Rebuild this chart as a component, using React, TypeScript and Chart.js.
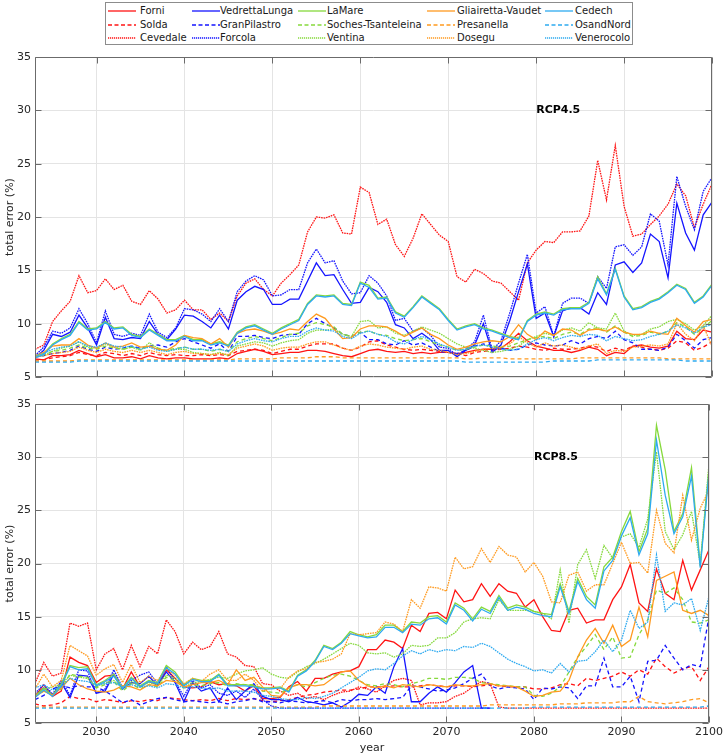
import { useEffect, useRef } from "react";
import { Chart, registerables } from "chart.js";

Chart.register(...registerables);

// ---------------- data ----------------
const years = [
  2023, 2024, 2025, 2026, 2027, 2028, 2029,
  2030, 2031, 2032, 2033, 2034, 2035, 2036, 2037, 2038, 2039,
  2040, 2041, 2042, 2043, 2044, 2045, 2046, 2047, 2048, 2049,
  2050, 2051, 2052, 2053, 2054, 2055, 2056, 2057, 2058, 2059,
  2060, 2061, 2062, 2063, 2064, 2065, 2066, 2067, 2068, 2069,
  2070, 2071, 2072, 2073, 2074, 2075, 2076, 2077, 2078, 2079,
  2080, 2081, 2082, 2083, 2084, 2085, 2086, 2087, 2088, 2089,
  2090, 2091, 2092, 2093, 2094, 2095, 2096, 2097, 2098, 2099,
  2100,
];
const xTickValues = [2030, 2040, 2050, 2060, 2070, 2080, 2090, 2100];
const yTickValues = [5, 10, 15, 20, 25, 30, 35];

const glacierNames = [
  "Forni", "Solda", "Cevedale",
  "VedrettaLunga", "GranPilastro", "Forcola",
  "LaMare", "Soches-Tsanteleina", "Ventina",
  "Gliairetta-Vaudet", "Presanella", "Dosegu",
  "Cedech", "OsandNord", "Venerocolo",
];

// ---- RCP4.5 ----
const forni45 = [
  6.7, 6.6, 7.0, 7.0, 7.1, 7.5, 7.2,
  6.9, 7.1, 6.8, 6.8, 6.9, 6.7, 7.0, 6.8, 6.7, 6.8,
  6.8, 6.7, 6.7, 6.7, 6.8, 6.7, 7.2, 7.4, 7.6, 7.4,
  7.1, 7.2, 7.3, 7.3, 7.5, 7.5, 7.4, 7.2, 7.0, 6.9,
  7.2, 7.5, 7.6, 7.4, 7.3, 7.4, 7.2, 7.3, 7.2, 7.3,
  7.3, 7.2, 7.3, 7.5, 7.6, 7.6, 7.7, 8.3, 9.1, 8.4,
  7.9, 7.7, 7.5, 7.5, 7.3, 7.5, 7.8, 7.6, 7.0, 7.3,
  7.2, 7.9, 8.0, 7.8, 7.7, 7.9, 9.3, 8.6, 8.5, 9.4,
  9.2,
];
const solda45 = [
  6.6, 6.6, 6.8, 6.9, 7.0, 7.3, 7.1,
  7.0, 7.3, 7.2, 7.0, 7.2, 7.0, 7.3, 7.1, 7.0, 7.1,
  7.0, 7.0, 7.1, 7.0, 7.1, 7.0, 7.4, 7.5, 7.6, 7.5,
  7.2, 7.4, 7.6, 7.6, 7.9, 8.1, 8.1, 8.1, 7.7, 7.5,
  7.8, 8.3, 8.4, 8.0, 7.8, 7.6, 7.5, 7.6, 7.5, 7.4,
  7.3, 7.2, 7.0, 7.3, 7.4, 7.5, 7.6, 7.7, 7.9, 7.8,
  7.6, 7.5, 7.7, 7.6, 7.6, 7.7, 7.9, 7.8, 7.4, 7.7,
  7.5, 7.9, 7.8, 7.6, 7.5, 7.7, 8.4, 8.2, 7.5, 7.8,
  8.3,
];
const cevedale45 = [
  7.6, 8.0, 10.2, 11.2, 12.1, 14.5, 12.9,
  13.1, 14.2, 13.2, 13.6, 12.1, 11.8, 13.1, 12.3, 11.0, 11.3,
  12.2, 11.3, 11.3, 10.4, 11.0, 10.2, 12.6, 13.8, 14.2, 13.2,
  12.6, 13.8, 14.6, 15.5, 18.6, 20.0, 19.9, 20.2, 18.5, 18.4,
  22.8, 22.3, 19.3, 19.8, 17.4, 16.3, 18.0, 20.3, 19.3, 18.3,
  17.7, 14.4, 13.9, 15.1, 14.7, 14.0, 13.8, 13.0, 12.2, 15.7,
  16.9, 17.7, 17.6, 18.6, 18.6, 18.7, 20.1, 25.3, 21.6, 26.7,
  21.0, 18.2, 18.4, 19.3, 20.1, 21.2, 23.1, 22.0, 19.0, 21.2,
  23.1,
];
const vedrettaLunga45 = [
  6.8, 7.5, 9.0, 8.8, 9.2, 10.8, 9.6,
  8.0, 10.6, 8.6, 8.5, 8.7, 8.6, 10.2, 9.0, 8.5, 9.5,
  10.8, 10.7, 10.2, 9.6, 10.8, 9.5, 12.2, 13.0, 13.5, 13.2,
  11.8, 11.8, 12.3, 12.3, 14.0, 15.7, 14.5, 14.6, 13.2, 11.9,
  12.0, 13.4, 13.0, 12.0, 9.9, 9.6, 8.6, 9.1, 8.5, 7.5,
  7.5, 6.9, 7.5, 8.0, 10.0, 7.3, 8.0, 10.3, 13.0, 15.6,
  10.5, 11.0, 8.8, 11.2, 11.5, 11.5, 10.9, 12.9, 11.8, 15.5,
  15.8, 14.8, 15.7, 18.4, 17.7, 14.3, 21.3, 18.5, 16.9, 20.2,
  21.4,
];
const granPilastro45 = [
  6.9, 7.0, 7.2, 7.3, 7.5, 7.9, 7.6,
  7.4, 7.8, 7.6, 7.7, 7.9, 7.7, 7.9, 8.0, 7.8, 8.3,
  8.6, 8.3, 8.0, 7.7, 8.1, 7.4, 8.8, 8.8, 8.9, 8.7,
  8.6, 8.9, 9.0, 9.0, 10.0, 10.5, 10.0, 9.6, 9.0, 8.8,
  9.2, 8.5, 8.5, 8.1, 8.0, 8.4, 8.0, 8.2, 7.8, 7.4,
  7.3, 7.2, 7.5, 7.9, 8.1, 7.9, 7.7, 7.5, 7.6, 8.0,
  8.2, 8.0, 7.9, 8.0, 8.4, 8.1, 8.6, 8.8, 8.6, 9.3,
  8.5, 8.2, 7.6, 7.6, 7.5, 7.8, 9.0, 8.4, 7.7, 8.5,
  8.7,
];
const forcola45 = [
  7.0, 7.8, 9.3, 9.1, 9.6, 11.4, 10.0,
  8.2, 11.2, 9.0, 8.8, 9.1, 8.9, 10.9, 9.2, 8.7, 9.6,
  11.4, 11.3, 10.9, 10.2, 11.4, 10.2, 13.0, 14.0, 14.5, 14.1,
  12.6, 12.7, 13.2, 13.2, 15.7, 17.0, 15.7, 15.9, 14.0, 12.8,
  12.9, 14.5, 13.8, 12.6, 10.3, 10.5, 9.3, 9.6, 8.9, 7.8,
  7.7, 7.0, 7.6, 8.3, 10.8, 7.5, 8.4, 11.0, 13.8, 16.5,
  11.0, 11.6, 8.8, 11.9, 12.4, 12.4, 11.9, 14.4, 13.3, 17.2,
  17.4, 16.4, 17.2, 20.3, 19.6, 15.5, 23.8, 21.0, 18.8, 22.4,
  23.7,
];
const laMare45 = [
  6.9, 7.2, 8.1, 8.6, 9.0, 10.2, 9.5,
  9.6, 10.2, 9.6, 9.7, 9.0, 8.8, 9.5, 9.0, 8.5, 8.5,
  8.9, 8.5, 8.5, 8.1, 8.3, 8.0, 9.2, 9.7, 9.9, 9.5,
  9.1, 9.6, 10.0, 10.4, 11.9, 12.7, 12.6, 12.7, 11.9, 11.8,
  13.9, 13.6, 12.4, 12.5, 11.1, 10.7, 11.6, 12.6, 12.0, 11.4,
  10.4, 9.5, 9.8, 10.0, 9.6, 9.4, 9.1, 8.8, 8.6, 10.3,
  10.9, 11.1, 10.9, 11.4, 11.5, 11.5, 12.0, 14.4, 12.8, 15.2,
  12.6, 11.4, 11.6, 12.1, 12.4, 13.0, 13.7, 13.3, 12.0, 12.6,
  13.7,
];
const soches45 = [
  7.0, 7.1, 7.4, 7.5, 7.7, 8.0, 7.7,
  7.6, 7.9, 7.7, 7.6, 7.8, 7.6, 7.9, 7.7, 7.5, 7.7,
  7.8, 7.6, 7.6, 7.4, 7.6, 7.4, 8.3, 8.6, 8.8, 8.6,
  8.4, 8.7, 9.0, 9.1, 9.8, 10.1, 9.9, 9.7, 9.0, 8.8,
  9.2, 9.3, 9.0, 8.9, 8.6, 8.4, 8.5, 8.6, 8.3, 8.0,
  7.8, 7.5, 7.6, 7.8, 8.0, 7.9, 7.8, 7.9, 8.2, 8.5,
  8.7, 8.8, 8.6, 9.0, 9.2, 9.0, 9.5, 9.6, 9.2, 9.8,
  9.2, 8.8, 8.9, 9.2, 9.0, 9.3, 10.1, 9.7, 9.0, 9.6,
  10.3,
];
const ventina45 = [
  6.9, 7.0, 7.4, 7.7, 7.9, 8.3, 7.8,
  7.7, 8.1, 7.8, 7.6, 7.8, 7.5, 8.2, 7.7, 7.4, 7.6,
  7.6, 7.3, 7.2, 7.1, 7.3, 7.0, 7.9, 8.1, 8.3, 8.2,
  7.9, 8.2, 8.4, 8.5, 9.1, 9.4, 9.4, 9.5, 9.0, 8.8,
  10.2, 10.3, 9.6, 9.7, 9.1, 8.9, 9.3, 9.7, 9.4, 9.1,
  8.6, 8.1, 7.8, 7.7, 7.5, 7.3, 7.4, 7.6, 7.9, 8.5,
  8.8, 9.1, 8.9, 9.4, 9.6, 9.3, 10.1, 9.6, 9.5, 11.0,
  9.3, 8.9, 9.0, 9.5, 9.7, 10.2, 10.4, 10.0, 9.4, 9.8,
  10.8,
];
const gliairetta45 = [
  7.0, 7.3, 7.9, 8.0, 8.0, 8.6, 8.0,
  7.7, 8.2, 7.8, 7.9, 8.2, 7.8, 7.9, 7.6, 7.5, 8.0,
  8.9, 8.7, 8.6, 8.1, 8.6, 7.8, 9.1, 9.4, 9.5, 9.3,
  9.0, 9.2, 9.5, 9.4, 10.2, 10.9, 10.5, 9.5, 8.6, 8.7,
  9.5, 9.8, 9.8, 9.7, 9.3, 8.8, 9.2, 9.6, 9.0, 8.6,
  8.0, 7.6, 7.8, 8.1, 8.3, 8.4, 8.3, 8.8, 9.9, 9.0,
  8.5, 9.3, 8.9, 9.5, 9.4, 8.9, 9.4, 9.5, 9.3, 9.7,
  9.2, 9.0, 9.0, 9.3, 9.1, 9.0, 10.5, 9.8, 9.2, 10.2,
  10.4,
];
const presanella45 = [
  6.5, 6.5, 6.5, 6.5, 6.5, 6.6, 6.6,
  6.6, 6.6, 6.6, 6.6, 6.6, 6.6, 6.6, 6.6, 6.6, 6.6,
  6.6, 6.6, 6.6, 6.6, 6.6, 6.6, 6.7, 6.7, 6.7, 6.7,
  6.7, 6.8, 6.8, 6.8, 6.8, 6.9, 6.9, 6.9, 6.8, 6.8,
  6.8, 6.8, 6.8, 6.8, 6.8, 6.8, 6.8, 6.8, 6.8, 6.8,
  6.8, 6.8, 6.7, 6.7, 6.8, 6.8, 6.8, 6.7, 6.7, 6.7,
  6.7, 6.7, 6.7, 6.7, 6.7, 6.8, 6.8, 6.8, 6.8, 6.8,
  6.8, 6.8, 6.8, 6.8, 6.8, 6.7, 6.7, 6.7, 6.7, 6.7,
  6.7,
];
const dosegu45 = [
  6.9, 7.0, 7.2, 7.3, 7.4, 7.8, 7.5,
  7.3, 7.6, 7.4, 7.3, 7.5, 7.3, 7.5, 7.3, 7.1, 7.3,
  7.4, 7.2, 7.2, 7.1, 7.2, 7.1, 7.7, 7.9, 8.1, 7.9,
  7.5, 7.7, 7.8, 7.8, 8.1, 8.3, 8.3, 8.0, 7.7, 7.5,
  7.9, 8.1, 8.0, 7.8, 7.7, 7.6, 7.8, 7.9, 7.6, 7.5,
  7.3, 7.1, 7.2, 7.4, 7.6, 7.7, 7.8, 8.1, 8.8, 8.2,
  7.8, 8.2, 7.9, 8.0, 7.8, 7.6, 7.9, 8.1, 7.2, 7.5,
  7.4, 7.8, 7.9, 8.0, 7.9, 8.1, 10.0, 9.0, 8.4, 9.8,
  7.9,
];
const cedech45 = [
  6.8, 7.1, 8.0, 8.5, 8.9, 10.1, 9.4,
  9.5, 10.1, 9.5, 9.6, 8.9, 8.7, 9.4, 8.9, 8.4, 8.4,
  8.8, 8.4, 8.4, 8.0, 8.2, 7.9, 9.1, 9.6, 9.8, 9.4,
  9.0, 9.5, 9.9, 10.3, 11.8, 12.6, 12.5, 12.6, 11.8, 11.7,
  13.8, 13.4, 12.3, 12.4, 11.0, 10.6, 11.5, 12.5, 11.9, 11.3,
  10.3, 9.4, 9.7, 9.9, 9.5, 9.3, 9.0, 8.7, 8.5, 10.2,
  10.8, 11.0, 10.8, 11.3, 11.4, 11.4, 11.9, 14.2, 12.7, 15.1,
  12.5, 11.3, 11.5, 12.0, 12.3, 12.9, 13.6, 13.2, 11.9, 12.5,
  13.6,
];
const osandNord45 = [
  6.4, 6.4, 6.4, 6.4, 6.4, 6.5, 6.5,
  6.5, 6.5, 6.5, 6.5, 6.5, 6.5, 6.5, 6.5, 6.5, 6.5,
  6.5, 6.5, 6.5, 6.5, 6.5, 6.5, 6.5, 6.5, 6.5, 6.5,
  6.5, 6.5, 6.5, 6.5, 6.5, 6.5, 6.5, 6.5, 6.5, 6.5,
  6.5, 6.5, 6.5, 6.5, 6.5, 6.5, 6.5, 6.5, 6.5, 6.5,
  6.5, 6.5, 6.4, 6.4, 6.4, 6.4, 6.4, 6.4, 6.4, 6.4,
  6.4, 6.4, 6.5, 6.5, 6.5, 6.5, 6.5, 6.6, 6.6, 6.6,
  6.6, 6.6, 6.6, 6.6, 6.6, 6.6, 6.6, 6.5, 6.5, 6.5,
  6.5,
];
const venerocolo45 = [
  7.0, 7.2, 7.6, 7.8, 7.9, 8.3, 7.9,
  7.8, 8.2, 7.9, 7.8, 7.9, 7.6, 7.8, 7.5, 7.4, 7.6,
  7.8, 7.6, 7.6, 7.5, 7.6, 7.4, 8.1, 8.4, 8.6, 8.4,
  8.3, 8.6, 8.8, 8.8, 9.3, 9.6, 9.4, 9.3, 8.8, 8.6,
  9.1, 9.3, 9.0, 8.8, 8.3, 8.1, 8.5, 8.8, 8.5, 8.1,
  7.8, 7.5, 7.6, 7.9, 8.0, 7.8, 7.6, 7.5, 7.6, 8.1,
  8.5, 8.7, 8.4, 8.7, 8.9, 8.8, 9.0, 8.9, 8.4, 8.8,
  8.6, 8.4, 8.5, 8.8, 9.0, 9.3, 9.9, 9.6, 9.1, 9.7,
  9.9,
];

// ---- RCP8.5 ----
const forni85 = [
  7.5, 8.6, 7.5, 8.0, 11.2, 10.7, 10.4,
  8.8, 9.4, 9.5, 8.2, 9.8, 8.4, 8.9, 8.6, 10.0, 9.2,
  8.4, 8.3, 8.4, 8.9, 8.6, 8.7, 8.5, 8.0, 8.5, 7.3,
  7.3, 7.4, 8.4, 8.9, 8.0, 9.2, 9.2, 9.6, 9.8, 9.9,
  10.3, 11.9, 11.9, 12.8, 12.6, 12.0, 14.2, 13.6, 15.3, 15.4,
  14.8, 17.5, 16.4, 16.6, 18.1, 16.9, 18.1, 17.4, 17.2, 15.9,
  16.6, 15.0, 13.7, 13.6, 15.6, 15.8, 14.4, 14.7, 14.7, 16.6,
  17.8, 19.9, 16.3, 15.5, 19.5, 17.2, 16.6, 20.3, 17.5, 19.4,
  21.3,
];
const solda85 = [
  6.8, 6.6, 6.7, 6.9, 7.5, 7.3, 7.3,
  7.0, 7.2, 7.1, 6.9, 7.1, 7.0, 7.2, 7.1, 7.4, 7.3,
  7.2, 7.1, 7.2, 7.1, 7.3, 7.1, 7.3, 7.2, 7.3, 7.1,
  7.0, 7.1, 7.2, 7.4, 7.6, 7.7, 7.9, 8.0, 8.1, 8.1,
  8.2, 8.4, 8.4, 8.4, 8.5, 8.4, 8.4, 8.5, 8.6, 8.5,
  8.4, 8.5, 8.5, 8.4, 8.5, 8.6, 8.5, 8.4, 8.4, 8.4,
  8.2, 8.2, 8.3, 8.6, 8.7, 8.5, 9.2, 9.0, 9.2, 9.4,
  9.8, 9.4, 10.0, 9.6, 11.1, 10.3, 9.7, 10.1, 10.3, 9.0,
  10.3,
];
const cevedale85 = [
  8.7, 10.7, 9.4, 9.7, 14.4, 14.1, 14.4,
  10.0, 11.5, 12.0, 10.0, 12.3, 10.3, 12.2, 11.5, 14.7, 13.6,
  11.5, 12.6, 11.9, 12.2, 13.6, 11.5, 11.2, 10.4, 10.3, 8.7,
  8.6, 8.0, 7.6, 7.8, 7.3, 7.5, 7.2, 7.6, 7.9, 8.0,
  8.4, 8.2, 7.9, 8.5, 9.0, 9.2, 9.0, 6.7, 6.9, 6.9,
  7.0, 7.5, 7.8, 8.4, 8.9, 8.7, 6.5, 6.4, 6.4, 6.4,
  6.4, 6.4, 6.4, 6.4, 6.4, 6.4, 6.4, 6.4, 6.4, 6.4,
  6.4, 6.4, 6.4, 6.4, 6.4, 6.4, 6.4, 6.4, 6.4, 6.4,
  6.4,
];
const vedrettaLunga85 = [
  7.5, 8.3, 7.6, 8.8, 7.4, 9.5, 9.4,
  7.8, 8.0, 9.6, 8.2, 8.8, 8.7, 9.4, 8.5, 9.8, 8.8,
  7.0, 8.8, 8.0, 8.3, 7.0, 8.3, 7.2, 8.0, 8.7, 7.5,
  7.2, 7.2, 7.0, 7.4, 7.0, 6.9, 6.7, 6.9, 6.5, 7.0,
  7.7, 7.6, 8.4, 7.8, 10.3, 12.0, 7.0, 7.0, 7.8, 8.4,
  7.9, 8.8, 9.8, 10.4, 6.4, 6.4, null, null, null, null,
  null, null, null, null, null, null, null, null, null, null,
  null, null, null, null, null, null, null, null, null, null,
  null,
];
const granPilastro85 = [
  7.2, 7.6, 8.2, 8.5, 8.3, 8.5, 8.4,
  8.4, 8.0, 7.5, 6.9, 7.2, 6.7, 7.0, 7.3, 7.4, 7.2,
  7.0, 7.1, 7.0, 6.9, 7.0, 6.8, 7.0, 7.1, 7.3, 7.0,
  7.0, 6.9, 7.1, 7.0, 6.9, 7.0, 7.1, 6.9, 7.2, 7.1,
  7.2, 7.2, 7.3, 7.2, 7.3, 7.4, 8.5, 8.4, 8.2, 8.0,
  8.1, 8.3, 8.7, 9.2, 9.6, 8.5, 8.2, 8.4, 8.3, 8.2,
  7.2, 8.3, 8.2, 8.4, 8.3, 7.3, 8.5, 8.5, 11.1, 8.4,
  8.4, 9.4, 7.0, 10.8, 10.9, 12.3, 11.1, 10.0, 10.5, 10.3,
  15.0,
];
const forcola85 = [
  7.8, 8.6, 7.7, 9.0, 7.6, 10.0, 9.9,
  7.8, 8.2, 10.0, 8.3, 9.0, 9.5, 9.8, 8.7, 10.3, 8.9,
  7.5, 9.0, 8.3, 8.6, 7.8, 7.6, 8.0, 7.4, 8.2, 7.2,
  6.6, 6.4, 6.4, 6.4, 6.4, 6.4, 6.4, 6.4, 6.4, 6.4,
  6.4, 6.4, 6.4, 6.4, 6.4, 6.4, 6.4, 6.4, 6.4, 6.4,
  6.4, 6.4, 6.4, 6.4, 6.4, 6.4, null, null, null, null,
  null, null, null, null, null, null, null, null, null, null,
  null, null, null, null, null, null, null, null, null, null,
  null,
];
const laMare85 = [
  7.5, 8.3, 7.6, 8.7, 10.4, 10.2, 10.3,
  8.6, 9.0, 9.6, 8.3, 9.3, 8.5, 9.0, 8.8, 10.4, 9.8,
  8.6, 9.2, 9.0, 9.0, 9.6, 8.6, 8.6, 8.6, 8.5, 8.3,
  8.3, 8.4, 8.0, 9.5, 10.0, 10.9, 12.3, 12.0, 12.6, 13.6,
  13.3, 13.1, 13.3, 14.2, 14.2, 13.6, 14.5, 14.4, 15.0, 15.1,
  14.5, 16.3, 15.8, 14.8, 15.9, 15.5, 17.0, 15.8, 16.1, 15.9,
  15.5, 15.3, 15.2, 18.1, 15.5, 18.6, 16.9, 16.1, 19.7, 20.6,
  23.0, 24.9, 21.1, 23.3, 33.0, 28.8, 23.0, 24.7, 29.0, 19.8,
  29.0,
];
const soches85 = [
  7.5, 8.0, 7.7, 8.2, 9.6, 9.4, 9.3,
  8.3, 8.6, 8.9, 8.0, 8.7, 8.2, 8.6, 8.4, 9.3, 9.0,
  8.3, 8.6, 8.5, 8.7, 8.8, 8.5, 8.7, 8.6, 8.6, 8.0,
  7.9, 7.8, 8.3, 8.6, 8.4, 8.8, 9.2, 9.5, 9.6, 9.4,
  9.0, 8.6, 8.5, 8.7, 8.6, 8.4, 8.7, 8.9, 9.2, 9.2,
  9.1, 9.3, 9.3, 9.2, 8.8, 8.7, 8.6, 8.5, 8.4, 8.4,
  7.6, 7.5, 7.8, 8.4, 9.8, 11.2, 12.2, 13.3, 11.9, 13.1,
  11.1, 11.2, 13.3, 14.7, 17.5, 17.2, 17.7, 16.6, 14.5, 14.4,
  14.7,
];
const ventina85 = [
  7.6, 8.2, 8.4, 8.6, 9.5, 9.3, 9.2,
  8.4, 8.8, 9.0, 8.3, 8.9, 8.4, 8.8, 8.6, 9.5, 9.2,
  8.5, 8.8, 8.9, 9.1, 9.3, 9.2, 9.6, 9.9, 10.0, 10.2,
  9.6, 9.3, 9.2, 9.8, 10.3, 10.6, 11.0, 11.5, 12.0, 12.5,
  12.3, 11.6, 11.5, 11.6, 11.2, 11.5, 12.3, 12.2, 12.3, 13.0,
  13.0, 13.5, 14.5, 14.8, 14.9, 14.8, 16.6, 15.6, 15.6, 15.6,
  15.5, 15.3, 14.8, 19.4, 14.4, 19.9, 21.3, 18.6, 21.7, 20.5,
  22.5, 22.8, 21.5, 24.2, 30.5, 23.0, 21.3, 22.7, 24.9, 19.9,
  29.4,
];
const gliairetta85 = [
  7.5, 8.0, 7.6, 8.3, 9.2, 8.6, 8.2,
  8.0, 7.9, 8.1, 8.5, 8.4, 8.1, 8.6, 8.5, 9.0, 8.9,
  8.4, 8.6, 8.8, 8.8, 9.0, 8.6, 10.0, 9.0, 9.3, 8.4,
  7.6, 7.5, 8.3, 8.6, 8.6, 8.5, 8.6, 9.2, 9.8, 9.9,
  9.0, 8.5, 8.3, 8.5, 8.3, 8.6, 8.5, 8.4, 8.6, 8.5,
  8.4, 8.6, 8.5, 8.5, 8.6, 8.7, 8.5, 8.5, 8.4, 8.0,
  7.5, 7.6, 7.9, 8.0, 9.0, 11.2, 12.8, 13.9, 12.5, 14.2,
  12.2, 12.8, 15.9, 13.1, 18.4, 18.8, 19.2, 15.6, 15.3, 15.6,
  15.1,
];
const presanella85 = [
  6.5, 6.5, 6.5, 6.5, 6.5, 6.5, 6.5,
  6.5, 6.5, 6.5, 6.5, 6.5, 6.5, 6.5, 6.5, 6.5, 6.5,
  6.5, 6.5, 6.5, 6.5, 6.5, 6.5, 6.5, 6.5, 6.5, 6.5,
  6.5, 6.5, 6.5, 6.5, 6.5, 6.5, 6.6, 6.6, 6.6, 6.6,
  6.6, 6.6, 6.6, 6.6, 6.6, 6.6, 6.6, 6.6, 6.6, 6.6,
  6.6, 6.6, 6.6, 6.6, 6.6, 6.7, 6.7, 6.7, 6.7, 6.7,
  6.7, 6.7, 6.7, 6.8, 6.8, 6.8, 6.9, 6.9, 6.9, 6.9,
  7.0, 7.0, 7.5, 7.0, 6.9, 6.8, 6.9, 7.0, 7.2, 7.3,
  6.9,
];
const dosegu85 = [
  8.2, 9.6, 8.4, 9.0, 12.3, 11.8, 11.3,
  9.5, 10.1, 10.5, 8.8, 10.5, 8.8, 9.4, 9.0, 10.1, 9.5,
  8.7, 9.2, 8.9, 9.6, 10.0, 9.0, 9.0, 9.6, 9.0, 8.0,
  8.3, 8.2, 9.3, 9.9, 10.1, 10.7, 10.8, 11.0, 11.5, 13.4,
  13.3, 13.4, 13.5, 14.5, 14.3, 13.6, 16.6, 15.8, 17.8, 17.7,
  17.4, 20.6, 19.5, 19.7, 21.4, 20.1, 21.6, 20.8, 20.6, 19.2,
  20.1, 18.8, 16.4, 16.3, 18.9, 19.2, 17.4, 18.0, 18.0, 20.0,
  22.0, 20.0, 20.1, 19.1, 25.0, 21.9, 21.0, 26.4, 22.2, 25.2,
  26.9,
];
const cedech85 = [
  7.4, 8.1, 7.5, 8.5, 10.3, 10.0, 10.1,
  8.5, 8.9, 9.4, 8.2, 9.2, 8.4, 8.9, 8.7, 10.2, 9.6,
  8.5, 9.1, 8.9, 8.9, 9.5, 8.5, 8.5, 8.5, 8.4, 8.2,
  8.2, 8.3, 7.9, 9.4, 9.9, 10.8, 12.2, 11.9, 12.5, 13.4,
  13.2, 13.0, 13.1, 14.0, 14.0, 13.5, 14.3, 14.2, 14.8, 14.9,
  14.3, 16.1, 15.6, 14.6, 15.7, 15.3, 16.8, 15.6, 15.9, 15.7,
  15.3, 15.1, 15.0, 17.8, 15.3, 18.3, 16.6, 15.8, 19.3, 20.3,
  22.6, 24.3, 20.8, 22.8, 31.6, 26.4, 22.8, 24.4, 28.2, 19.6,
  28.6,
];
const osandNord85 = [
  6.4, 6.4, 6.4, 6.4, 6.4, 6.4, 6.4,
  6.4, 6.4, 6.4, 6.4, 6.4, 6.4, 6.4, 6.4, 6.4, 6.4,
  6.4, 6.4, 6.4, 6.4, 6.4, 6.4, 6.4, 6.4, 6.4, 6.4,
  6.4, 6.4, 6.4, 6.4, 6.4, 6.4, 6.4, 6.4, 6.4, 6.4,
  6.4, 6.4, 6.4, 6.4, 6.4, 6.4, 6.4, 6.4, 6.4, 6.4,
  6.4, 6.4, 6.4, 6.4, 6.4, 6.4, 6.4, 6.4, 6.4, 6.4,
  6.5, 6.5, 6.5, 6.5, 6.5, 6.5, 6.5, 6.5, 6.5, 6.5,
  6.5, 6.5, 6.5, 6.5, 6.5, 6.5, 6.5, 6.5, 6.5, 6.5,
  6.6,
];
const venerocolo85 = [
  8.3, 8.6, 8.1, 8.4, 9.2, 9.0, 8.9,
  8.6, 8.7, 8.8, 8.4, 8.6, 8.4, 8.5, 8.3, 8.7, 8.6,
  8.3, 8.4, 8.3, 8.2, 8.3, 8.0, 8.0, 8.0, 7.9, 7.6,
  7.5, 7.3, 7.2, 7.2, 7.4, 7.3, 7.5, 7.8, 8.3, 8.8,
  9.3, 9.9, 10.1, 10.0, 10.6, 11.3, 11.8, 11.5, 11.9, 11.7,
  11.9, 11.8, 12.2, 12.1, 12.5, 12.2, 11.6, 11.0, 10.6, 10.3,
  9.9, 10.0, 9.7, 10.6, 9.8, 10.8, 10.9, 11.7, 12.8, 11.7,
  12.8, 15.6, 13.9, 14.5, 20.8, 15.5, 16.3, 16.1, 16.7, 13.7,
  16.9,
];

const rcp45 = [
  forni45, solda45, cevedale45, vedrettaLunga45, granPilastro45, forcola45,
  laMare45, soches45, ventina45, gliairetta45, presanella45, dosegu45,
  cedech45, osandNord45, venerocolo45,
];
const rcp85 = [
  forni85, solda85, cevedale85, vedrettaLunga85, granPilastro85, forcola85,
  laMare85, soches85, ventina85, gliairetta85, presanella85, dosegu85,
  cedech85, osandNord85, venerocolo85,
];

// ---------------- styles ----------------
const FONT = "'DejaVu Sans', sans-serif";
const groupColors = ["#ff1414", "#1414ff", "#86d93c", "#ff9a1f", "#2eaaf0"];
const dashPatterns: number[][] = [[], [4, 3], [1.6, 0.9]];
const svgDash = ["", "4 2.5", "1.2 0.8"];

function styleFor(i: number) {
  const color = groupColors[Math.floor(i / 3)];
  const kind = i % 3;
  return { color, kind };
}

function buildDatasets(series: (number | null)[][]) {
  return series.map((vals, i) => {
    const { color, kind } = styleFor(i);
    return {
      label: glacierNames[i],
      data: vals.map((v, j) => ({ x: years[j], y: v })),
      borderColor: color,
      backgroundColor: color,
      borderWidth: 1.3,
      borderDash: dashPatterns[kind],
      pointRadius: 0,
      tension: 0,
      fill: false,
      order: series.length - i,
    };
  });
}

const framePlugin = {
  id: "frame",
  afterDatasetsDraw(chart: any, _args: any, opts: any) {
    const { ctx, chartArea: a, scales } = chart;
    ctx.save();
    ctx.strokeStyle = "#6b6b6b";
    ctx.lineWidth = 1;
    const L = Math.round(a.left) + 0.5;
    const R = Math.round(a.right) - 0.5;
    const T = Math.round(a.top) + 0.5;
    const B = Math.round(a.bottom) - 0.5;
    ctx.beginPath();
    ctx.rect(L, T, R - L, B - T);
    const tl = 6;
    xTickValues.forEach((v) => {
      const px = Math.round(scales.x.getPixelForValue(v)) + 0.5;
      ctx.moveTo(px, B);
      ctx.lineTo(px, B - tl);
      ctx.moveTo(px, T);
      ctx.lineTo(px, T + tl);
    });
    yTickValues.forEach((v) => {
      const py = Math.round(scales.y.getPixelForValue(v)) + 0.5;
      ctx.moveTo(L, py);
      ctx.lineTo(L + tl, py);
      ctx.moveTo(R, py);
      ctx.lineTo(R - tl, py);
    });
    ctx.stroke();
    if (opts && opts.label) {
      ctx.fillStyle = "#000";
      ctx.font = `bold 11px ${FONT}`;
      ctx.textAlign = "left";
      ctx.textBaseline = "middle";
      ctx.fillText(
        opts.label,
        scales.x.getPixelForValue(opts.atX),
        scales.y.getPixelForValue(opts.atY)
      );
    }
    ctx.restore();
  },
};

function makeConfig(
  series: (number | null)[][],
  label: string,
  padTop: number,
  xHeight: number,
  showX: boolean
): any {
  return {
    type: "line",
    data: { datasets: buildDatasets(series) },
    plugins: [framePlugin],
    options: {
      animation: false,
      responsive: false,
      maintainAspectRatio: false,
      events: [],
      layout: { padding: { top: padTop, right: 14, left: 0, bottom: 0 } },
      plugins: {
        legend: { display: false },
        tooltip: { enabled: false },
        frame: { label, atX: 2080, atY: 30 },
      },
      scales: {
        x: {
          type: "linear",
          min: 2023,
          max: 2100,
          afterBuildTicks: (s: any) => {
            s.ticks = xTickValues.map((v) => ({ value: v }));
          },
          afterFit: (s: any) => {
            s.height = xHeight;
          },
          grid: { color: "#e4e4e4", drawTicks: false, lineWidth: 1 },
          border: { display: false },
          ticks: {
            display: showX,
            font: { family: FONT, size: 11 },
            color: "#262626",
            padding: 3,
            maxRotation: 0,
            callback: (v: any) => String(v),
          },
          title: {
            display: showX,
            text: "year",
            font: { family: FONT, size: 11 },
            color: "#262626",
            padding: { top: 0, bottom: 1 },
          },
        },
        y: {
          type: "linear",
          min: 5,
          max: 35,
          afterBuildTicks: (s: any) => {
            s.ticks = yTickValues.map((v) => ({ value: v }));
          },
          afterFit: (s: any) => {
            s.width = 35;
          },
          grid: { color: "#e4e4e4", drawTicks: false, lineWidth: 1 },
          border: { display: false },
          ticks: {
            font: { family: FONT, size: 11 },
            color: "#262626",
            padding: 4,
          },
          title: {
            display: true,
            text: "total error (%)",
            font: { family: FONT, size: 11 },
            color: "#262626",
            padding: { top: 4, bottom: 0 },
          },
        },
      },
    },
  };
}

// legend layout (pixel positions of the figure)
const legendLineX = [108, 192, 298, 427, 545];
const legendTextX = [140, 220, 327, 457, 575];
const legendRowY = [10, 23.5, 37];

function Legend() {
  return (
    <div
      style={{
        position: "absolute",
        left: 105,
        top: 2,
        width: 526,
        height: 41,
        border: "1px solid #8c8c8c",
        background: "#fff",
        zIndex: 2,
      }}
    >
      {glacierNames.map((name, i) => {
        const { color, kind } = styleFor(i);
        const col = Math.floor(i / 3);
        const row = i % 3;
        const y = legendRowY[row] - 2;
        return (
          <div key={name}>
            <svg
              width={30}
              height={6}
              style={{
                position: "absolute",
                left: legendLineX[col] - 106,
                top: y - 3,
              }}
            >
              <line
                x1={0}
                y1={3}
                x2={28}
                y2={3}
                stroke={color}
                strokeWidth={1.3}
                strokeDasharray={svgDash[kind] || undefined}
              />
            </svg>
            <span
              style={{
                position: "absolute",
                left: legendTextX[col] - 106,
                top: y - 7,
                fontFamily: FONT,
                fontSize: 10,
                lineHeight: "14px",
                color: "#1a1a1a",
                whiteSpace: "nowrap",
              }}
            >
              {name}
            </span>
          </div>
        );
      })}
    </div>
  );
}

export default function App() {
  const topRef = useRef<HTMLCanvasElement | null>(null);
  const botRef = useRef<HTMLCanvasElement | null>(null);

  useEffect(() => {
    document.body.style.margin = "0";
    const c1 = new Chart(topRef.current as HTMLCanvasElement, makeConfig(rcp45, "RCP4.5", 57, 13, false));
    const c2 = new Chart(botRef.current as HTMLCanvasElement, makeConfig(rcp85, "RCP8.5", 14, 33, true));
    return () => {
      c1.destroy();
      c2.destroy();
    };
  }, []);

  return (
    <div
      style={{
        position: "absolute",
        left: 0,
        top: 0,
        width: 726,
        height: 756,
        background: "#fff",
        overflow: "hidden",
      }}
    >
      <canvas
        ref={topRef}
        width={726}
        height={390}
        style={{ position: "absolute", left: 0, top: 0, width: 726, height: 390 }}
      />
      <canvas
        ref={botRef}
        width={726}
        height={366}
        style={{ position: "absolute", left: 0, top: 390, width: 726, height: 366 }}
      />
      <Legend />
    </div>
  );
}
